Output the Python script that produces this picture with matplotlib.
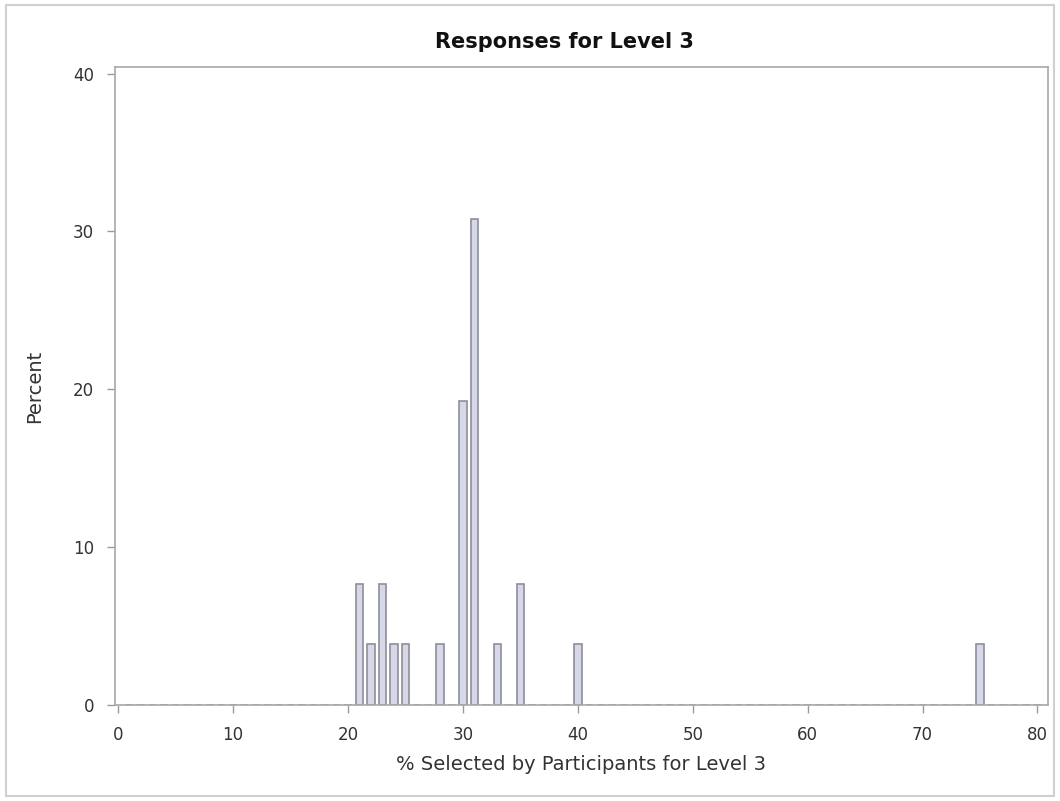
import numpy as np
import matplotlib.pyplot as plt
from matplotlib.patches import Rectangle

plt.rcParams['font.family'] = ['DejaVu Sans']

# data (percent of 26 participants)
bins = list(range(1, 81))
sel_values = [21, 22, 23, 24, 25, 28, 30, 31, 33, 35, 40, 75]
sel_percent = [7.69, 3.85, 7.69, 3.85, 3.85, 3.85, 19.23, 30.77, 3.85, 7.69, 3.85, 3.85]
x_ticks = [0, 10, 20, 30, 40, 50, 60, 70, 80]
y_ticks = [0, 10, 20, 30, 40]

pct_lookup = dict(zip(sel_values, sel_percent))
heights = [pct_lookup.get(b, 0) for b in bins]

fig = plt.figure(figsize=(10.6, 8.01), dpi=100)
ax = fig.add_axes([0.1085, 0.12, 0.88, 0.796])

ax.bar(bins, heights, width=0.65, color='#d6d8e8', edgecolor='#8e8e9c', linewidth=1.2)

ax.set_xlim(-0.28, 80.9)
ax.set_ylim(0, 40.4)
ax.set_xticks(x_ticks)
ax.set_yticks(y_ticks)
ax.tick_params(colors='#9a9a9a', labelcolor='#333333', labelsize=12, length=6, width=1)
ax.tick_params(axis='x', pad=9)
ax.tick_params(axis='y', pad=9)
for s in ax.spines.values():
    s.set_color('#a8a8a8')
    s.set_linewidth(1.2)

ax.set_title('Responses for Level 3', fontsize=15, fontweight='bold', color='#111111',
             x=0.482, pad=14)
ax.set_xlabel('% Selected by Participants for Level 3', fontsize=14, color='#333333', labelpad=8)
ax.set_ylabel('Percent', fontsize=14, color='#333333')
ax.yaxis.set_label_coords(-0.076, 0.5)

# light frame around whole graph
fig.patches.append(Rectangle((0.006, 0.006), 0.988, 0.988, transform=fig.transFigure,
                             fill=False, edgecolor='#d0d0d0', linewidth=1.5))

fig.savefig('out.png', dpi=100)
